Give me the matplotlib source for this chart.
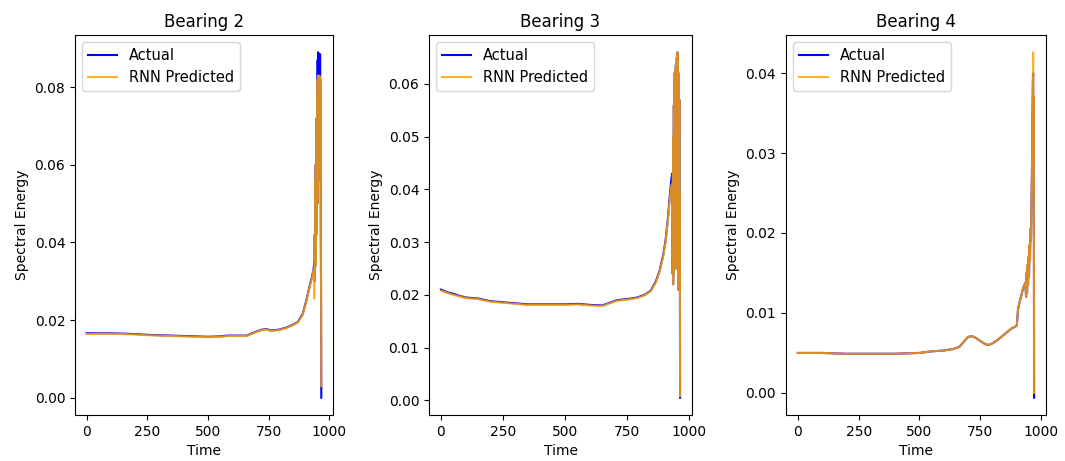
import matplotlib
matplotlib.use("Agg")
import matplotlib.pyplot as plt

# ---------------- data ----------------
titles = ["Bearing 2", "Bearing 3", "Bearing 4"]

# Bearing 2
b2_time = [0, 50, 100, 150, 200, 250, 300, 350, 400, 450, 500, 550, 580, 620, 660,
           690, 720, 740, 760, 790, 820, 850, 870, 890, 905, 920, 930, 936,
           938, 939, 940, 941, 942, 943, 944, 945, 946, 947, 948, 949, 950, 951,
           952, 953, 954, 955, 956, 957, 958, 959, 960, 961, 962, 963, 964, 965, 966, 967]
b2_actual = [0.0166, 0.0166, 0.0166, 0.0165, 0.0164, 0.0162, 0.0161, 0.0160, 0.0159, 0.0158,
             0.0157, 0.0158, 0.0160, 0.0160, 0.0160, 0.0168, 0.0175, 0.0177, 0.0173, 0.0175,
             0.0180, 0.0188, 0.0195, 0.0215, 0.0250, 0.0290, 0.0315, 0.0335,
             0.0350, 0.0330, 0.0420, 0.0300, 0.0560, 0.0340, 0.0600, 0.0380, 0.0680, 0.0420,
             0.0720, 0.0460, 0.0780, 0.0500, 0.0870, 0.0540, 0.0890, 0.0580, 0.0885, 0.0600,
             0.0880, 0.0580, 0.0870, 0.0600, 0.0885, 0.0560, 0.0815, 0.0430, 0.0280, 0.0000]
b2_pred = [0.0164, 0.0165, 0.0165, 0.0164, 0.0163, 0.0161, 0.0160, 0.0159, 0.0158, 0.0157,
           0.0156, 0.0157, 0.0159, 0.0159, 0.0159, 0.0167, 0.0174, 0.0176, 0.0172, 0.0174,
           0.0179, 0.0187, 0.0194, 0.0213, 0.0248, 0.0288, 0.0312, 0.0330,
           0.0255, 0.0330, 0.0420, 0.0300, 0.0560, 0.0340, 0.0600, 0.0380, 0.0680, 0.0420,
           0.0720, 0.0460, 0.0780, 0.0500, 0.0820, 0.0540, 0.0830, 0.0580, 0.0830, 0.0600,
           0.0825, 0.0580, 0.0810, 0.0600, 0.0828, 0.0560, 0.0815, 0.0430, 0.0280, 0.0030]

# Bearing 3
b3_time = [0, 25, 50, 75, 100, 150, 200, 250, 300, 350, 400, 450, 500, 550, 600, 650,
           680, 710, 750, 790, 820, 845, 865, 880, 895, 905, 915, 922, 928, 931,
           932, 933, 934, 935, 936, 937, 938, 939, 940, 941, 942, 943, 944, 945, 946,
           947, 948, 949, 950, 951, 952, 953, 954, 955, 956, 957, 958, 959, 960, 961, 962, 963]
b3_actual = [0.0210, 0.0205, 0.0202, 0.0198, 0.0195, 0.0193, 0.0188, 0.0186, 0.0184, 0.0182,
             0.0182, 0.0182, 0.0182, 0.0183, 0.0181, 0.0180, 0.0185, 0.0190, 0.0192, 0.0195,
             0.0200, 0.0208, 0.0225, 0.0245, 0.0275, 0.0305, 0.0350, 0.0390, 0.0420, 0.0430,
             0.0360, 0.0240, 0.0430, 0.0220, 0.0500, 0.0240, 0.0560, 0.0260, 0.0620, 0.0290,
             0.0590, 0.0270, 0.0625, 0.0310, 0.0635, 0.0250, 0.0610, 0.0290, 0.0650, 0.0270,
             0.0660, 0.0340, 0.0650, 0.0210, 0.0590, 0.0230, 0.0620, 0.0250, 0.0570, 0.0210,
             0.0390, 0.0005]
b3_pred = [0.0208, 0.0204, 0.0200, 0.0197, 0.0194, 0.0192, 0.0187, 0.0185, 0.0183, 0.0181,
           0.0181, 0.0181, 0.0181, 0.0182, 0.0180, 0.0179, 0.0184, 0.0189, 0.0191, 0.0194,
           0.0199, 0.0207, 0.0223, 0.0243, 0.0272, 0.0302, 0.0346, 0.0385, 0.0408, 0.0410,
           0.0360, 0.0240, 0.0430, 0.0220, 0.0500, 0.0240, 0.0560, 0.0260, 0.0620, 0.0290,
           0.0590, 0.0270, 0.0625, 0.0310, 0.0635, 0.0250, 0.0610, 0.0290, 0.0650, 0.0270,
           0.0660, 0.0340, 0.0650, 0.0210, 0.0590, 0.0230, 0.0620, 0.0250, 0.0570, 0.0210,
           0.0390, 0.0008]

# Bearing 4
b4_time = [0, 50, 100, 200, 300, 400, 500, 550, 600, 640, 665, 685, 700, 715, 730, 750,
           770, 785, 800, 820, 840, 860, 880, 895, 900, 905, 915, 925, 935,
           938, 940, 942, 944, 946, 948, 950, 952, 954, 956, 958, 960, 962, 964, 966,
           967, 968, 969, 970, 971]
b4_actual = [0.0050, 0.0050, 0.0050, 0.0049, 0.0049, 0.0049, 0.0050, 0.0052, 0.0053, 0.0055,
             0.0058, 0.0065, 0.0070, 0.0071, 0.0069, 0.0065, 0.0061, 0.0060, 0.0062, 0.0066,
             0.0071, 0.0076, 0.0081, 0.0083, 0.0085, 0.0105, 0.0118, 0.0130, 0.0138,
             0.0120, 0.0150, 0.0125, 0.0160, 0.0135, 0.0170, 0.0145, 0.0185, 0.0165, 0.0205,
             0.0190, 0.0235, 0.0275, 0.0340, 0.0390, 0.0400, 0.0290, 0.0370, 0.0220, -0.0006]
b4_pred = [0.0050, 0.0050, 0.0050, 0.0049, 0.0049, 0.0049, 0.0050, 0.0052, 0.0053, 0.0055,
           0.0058, 0.0065, 0.0070, 0.0071, 0.0069, 0.0065, 0.0061, 0.0060, 0.0062, 0.0066,
           0.0071, 0.0076, 0.0081, 0.0083, 0.0085, 0.0105, 0.0118, 0.0130, 0.0138,
           0.0120, 0.0150, 0.0125, 0.0160, 0.0135, 0.0170, 0.0145, 0.0185, 0.0165, 0.0205,
           0.0190, 0.0235, 0.0275, 0.0340, 0.0400, 0.0426, 0.0290, 0.0370, 0.0220, 0.0000]

series = [(b2_time, b2_actual, b2_pred),
          (b3_time, b3_actual, b3_pred),
          (b4_time, b4_actual, b4_pred)]

# ---------------- plot ----------------
fig = plt.figure(figsize=(10.65, 4.61), dpi=100)
positions = [[0.0704, 0.0998, 0.2423, 0.8243],
             [0.4028, 0.0998, 0.2470, 0.8243],
             [0.7380, 0.0998, 0.2441, 0.8243]]

for pos, title, (t, actual, pred) in zip(positions, titles, series):
    ax = fig.add_axes(pos)
    ax.plot(t, actual, color="blue", label="Actual")
    ax.plot(t, pred, color="orange", alpha=0.85, label="RNN Predicted")
    ax.set_title(title)
    ax.set_xlabel("Time")
    ax.set_ylabel("Spectral Energy")
    ax.set_xticks([0, 250, 500, 750, 1000])
    ax.legend(loc="upper left", fontsize=10.5)

fig.savefig("out.png", dpi=100)
